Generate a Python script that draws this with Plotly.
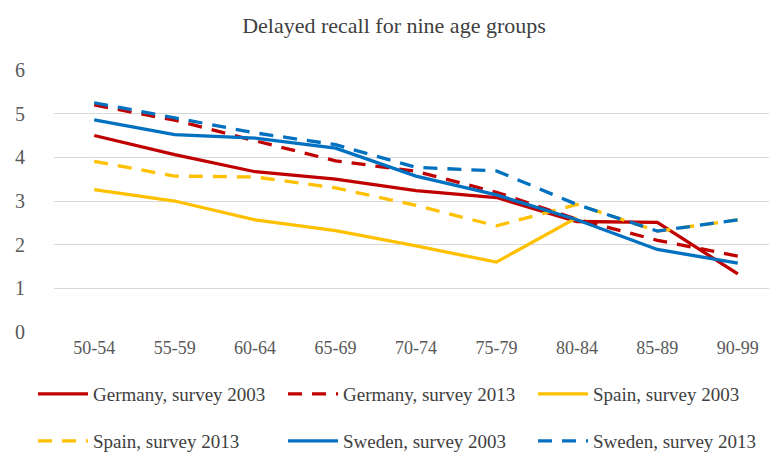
import plotly.graph_objects as go

ages = ["50-54", "55-59", "60-64", "65-69", "70-74", "75-79", "80-84", "85-89", "90-99"]
germany_2003 = [4.50, 4.06, 3.67, 3.50, 3.24, 3.08, 2.53, 2.51, 1.33]
germany_2013 = [5.20, 4.85, 4.38, 3.92, 3.68, 3.20, 2.58, 2.10, 1.74]
spain_2003 = [3.26, 3.00, 2.57, 2.32, 1.97, 1.60, 2.62, None, None]
spain_2013 = [3.91, 3.57, 3.55, 3.30, 2.90, 2.43, 2.92, 2.31, 2.57]
sweden_2003 = [4.86, 4.52, 4.44, 4.21, 3.57, 3.14, 2.57, 1.89, 1.58]
sweden_2013 = [5.25, 4.90, 4.56, 4.29, 3.77, 3.69, 2.92, 2.31, 2.57]
y_ticks = [0, 1, 2, 3, 4, 5, 6]

RED = "#C00000"
YEL = "#FFC000"
BLUE = "#0070C0"
DASH = "14px,10px"
FONT = "Liberation Serif"

series = [
    ("Germany, survey 2003", germany_2003, RED, "solid"),
    ("Germany, survey 2013", germany_2013, RED, DASH),
    ("Spain, survey 2003", spain_2003, YEL, "solid"),
    ("Spain, survey 2013", spain_2013, YEL, DASH),
    ("Sweden, survey 2003", sweden_2003, BLUE, "solid"),
    ("Sweden, survey 2013", sweden_2013, BLUE, DASH),
]

# legend slot (column, row) for each series
slots = [(0, 0), (1, 0), (2, 0), (0, 1), (1, 1), (2, 1)]
col_x = [25, 275, 525]
row_y = [386, 433]

fig = go.Figure()
legends = {}
for i, ((name, vals, col, dash), (c, r)) in enumerate(zip(series, slots)):
    key = "legend" if i == 0 else f"legend{i + 1}"
    fig.add_trace(go.Scatter(
        x=ages, y=vals, name=name, mode="lines",
        line=dict(color=col, width=3.3, dash=dash),
        legend=key, connectgaps=False,
    ))
    legends[key] = dict(
        orientation="h", xref="container", yref="container",
        x=col_x[c] / 777, y=1 - row_y[r] / 460,
        xanchor="left", yanchor="middle",
        font=dict(family=FONT, size=19, color="#404040"),
        itemwidth=50, bgcolor="rgba(0,0,0,0)",
    )

fig.update_layout(
    width=777, height=460,
    paper_bgcolor="white", plot_bgcolor="white",
    margin=dict(l=44, r=7, t=62, b=136),
    title=dict(text="Delayed recall for nine age groups", x=386 / 777, xanchor="center",
               xref="container", yref="container", y=1 - 17 / 460, yanchor="middle",
               font=dict(family=FONT, size=22, color="#404040")),
    showlegend=True,
    xaxis=dict(type="category", range=[-0.5, 8.5], showgrid=False, zeroline=False,
               showline=False, ticks="", tickfont=dict(family=FONT, size=18, color="#595959"),
               ticklabelstandoff=3),
    yaxis=dict(range=[0, 6], tickvals=y_ticks, showgrid=True, gridcolor="#D9D9D9",
               gridwidth=1.3, zeroline=False, showline=False, ticks="",
               tickfont=dict(family=FONT, size=20, color="#595959"),
               ticklabelstandoff=28),
    **legends,
)

fig.write_html("out.html")
